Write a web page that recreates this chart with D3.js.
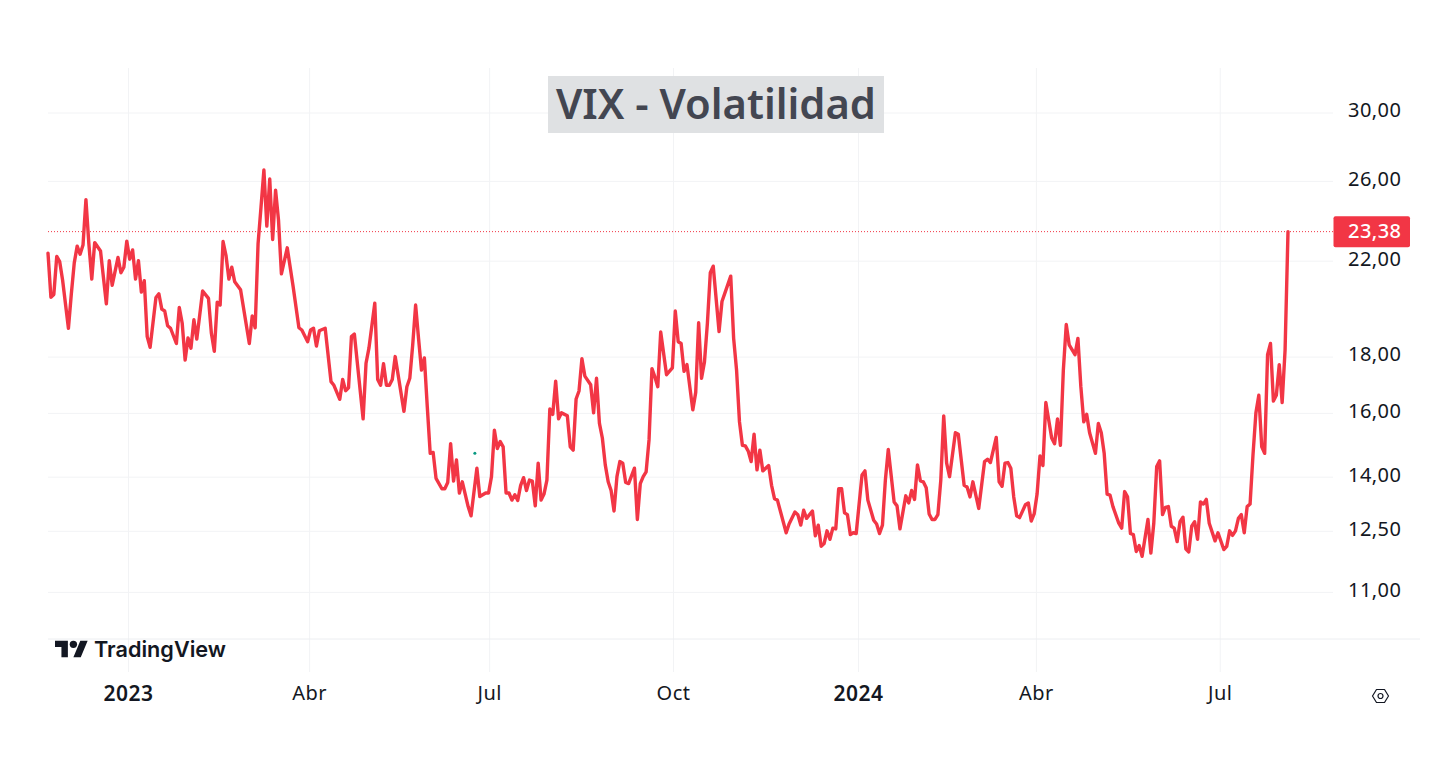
<!DOCTYPE html>
<html>
<head>
<meta charset="utf-8">
<title>VIX - Volatilidad</title>
<script src="https://cdn.jsdelivr.net/npm/d3@7"></script>
<style>
  html, body { margin: 0; background: #fff; }
  svg { display: block; }
  .grid line { stroke: #f2f3f5; stroke-width: 1; }
  .grid .domain { display: none; }
  .axis .domain { display: none; }
  .axis text { font-family: "Noto Sans", sans-serif; font-size: 20px; letter-spacing: 0.45px; fill: #131722; }
</style>
</head>
<body>
<svg id="chart" width="1450" height="772"></svg>
<script>
/* ── Data: one row of sessions lines up with one row of closes ── */
const sessions = [
  0,1,2,3,4,5,7,8,9,10,11,12,13,14,15,16,18,20,
  21,22,24,25,26,27,28,29,30,31,32,33,34,35,37,38,39,40,
  41,42,44,45,46,47,48,49,50,51,53,55,56,57,58,59,60,61,
  62,63,64,66,69,70,71,72,73,74,75,76,77,78,79,80,82,84,
  86,87,89,90,91,92,93,95,97,98,100,101,102,103,104,105,108,109,
  110,112,113,114,115,116,117,118,119,122,123,124,125,126,127,128,129,130,
  131,132,133,135,136,137,138,139,140,141,142,144,145,147,148,150,151,152,
  153,154,155,156,157,158,159,160,161,162,163,164,165,166,167,168,169,170,
  171,172,173,174,175,176,178,179,180,181,182,183,184,186,187,188,189,190,
  191,192,193,194,195,196,197,198,199,201,202,203,204,205,206,207,208,209,
  210,212,214,215,216,217,218,219,221,222,223,224,225,226,227,228,230,231,
  234,235,236,237,238,239,240,241,242,243,244,245,247,248,249,250,253,254,
  256,257,258,259,260,262,263,264,265,266,267,268,269,270,271,272,273,274,
  275,276,277,279,280,281,283,284,285,286,287,288,290,291,292,294,295,296,
  297,298,299,300,301,302,303,304,305,306,307,308,309,311,312,314,315,316,
  317,319,321,322,323,325,326,327,328,329,330,331,332,333,335,336,337,338,
  339,340,341,342,344,345,346,347,348,349,350,352,353,354,355,356,357,359,
  360,361,362,363,364,365,367,368,369,370,371,372,373,374,375,377,378,379,
  380,381,382,383,384,385,386,387,388,389,390,391,392,393,394,395,396,397,
  398,400,401,403,404,405,406,407,408,409,410,411,412,413,414,415,416,417,
  418,419,420,421,422,423,424,425
];
const closes = [
  22.35,20.38,20.5,22.2,21.96,21.13,19.1,20.53,21.9,22.68,22.3,22.73,25.0,22.8,21.17,22.85,22.45,20.1,
  22.0,20.9,22.15,21.45,21.7,22.92,22.07,22.5,21.17,22.0,20.6,21.1,18.77,18.35,20.37,20.53,19.88,19.8,
  19.2,19.1,18.5,19.95,19.3,17.87,18.72,18.32,19.44,18.67,20.65,20.33,18.9,18.2,20.17,20.05,22.9,22.25,
  21.17,21.7,21.05,20.7,18.5,19.6,19.12,22.8,24.6,26.6,23.65,26.1,23.0,25.5,23.96,21.4,22.6,20.85,
  19.12,19.03,18.57,19.03,19.1,18.4,19.0,19.1,17.08,16.95,16.46,17.16,16.76,16.86,18.77,18.87,15.8,17.75,
  18.32,20.13,17.16,16.95,17.73,16.95,16.95,17.16,18.0,16.05,16.9,17.2,18.45,20.05,18.7,17.5,17.95,16.2,
  14.7,14.73,13.95,13.65,13.65,13.83,15.0,13.87,14.5,13.53,13.85,13.15,12.9,14.25,13.43,13.53,13.53,14.0,
  15.43,14.85,15.07,14.9,13.53,13.53,13.33,13.48,13.32,13.75,13.97,13.6,13.9,13.87,13.17,14.4,13.33,13.5,
  13.9,16.13,15.95,17.1,15.8,16.0,15.9,14.9,14.8,16.47,16.75,17.92,17.28,16.97,16.0,17.2,15.65,15.18,
  14.35,13.85,13.6,13.03,14.0,14.45,14.4,13.83,13.8,14.25,12.8,13.8,14.0,14.14,15.12,17.55,17.25,16.9,
  18.95,17.33,17.58,19.8,18.57,18.5,17.45,17.7,16.1,16.7,19.32,17.2,17.8,19.3,21.45,21.75,18.97,20.2,
  21.3,18.7,17.5,15.7,14.95,14.93,14.77,14.45,15.3,14.2,14.8,14.17,14.33,13.75,13.37,13.33,12.45,12.68,
  13.0,12.93,12.65,13.05,12.83,13.03,12.37,12.65,12.1,12.17,12.5,12.28,12.57,12.55,13.65,13.65,12.98,12.93,
  12.4,12.45,12.43,14.05,14.17,13.33,12.78,12.68,12.43,12.65,13.9,14.82,13.28,13.17,12.55,13.45,13.25,13.6,
  13.35,14.35,13.88,13.85,13.68,12.95,12.8,12.8,12.93,13.9,15.9,14.4,14.0,15.35,15.3,13.75,13.7,13.42,
  13.85,13.1,14.45,14.52,14.42,15.2,13.85,13.72,14.4,14.42,14.25,13.42,12.9,12.85,13.2,13.25,12.76,12.95,
  13.5,14.62,14.33,16.35,15.18,15.0,15.8,14.95,17.5,19.25,18.45,18.07,18.7,16.9,15.7,15.95,15.35,14.7,
  15.65,15.35,14.7,13.5,13.47,13.15,12.7,12.57,13.57,13.42,12.43,12.4,11.97,12.12,11.85,12.8,11.93,12.7,
  14.3,14.47,12.93,13.13,13.15,12.62,12.57,12.22,12.74,12.86,12.03,11.96,12.62,12.74,12.28,13.28,13.22,13.35,
  12.7,12.24,12.45,12.02,12.1,12.5,12.38,12.5,12.83,12.93,12.45,13.15,13.22,14.65,16.0,16.6,14.9,14.7,
  18.07,18.5,16.4,16.6,17.7,16.35,18.25,23.38
];

const priceTicks   = [30, 26, 22, 18, 16, 14, 12.5, 11];
const timeSessions = [27.4, 89.5, 151.2, 214.2, 277.6, 338.6, 401.6];
const timeLabels   = ["2023", "Abr", "Jul", "Oct", "2024", "Abr", "Jul"];
const yearLabels   = ["2023", "2024"];
const lastPrice    = 23.38;
const markerPoint  = [146.3, 14.7];   // stray green dot on the chart
const titleText    = "VIX - Volatilidad";

/* ── Layout ── */
const RED = "#f23645";
const svg = d3.select("#chart");
const plot = { left: 48, right: 1288, gridRight: 1333, top: 68, bottom: 639, timeBottom: 672 };

const x = d3.scaleLinear().domain([0, 425]).range([plot.left, plot.right]);
const y = d3.scaleLog().domain([30, 11]).range([112.5, 591.9]);

const esLocale = d3.formatLocale({ decimal: ",", thousands: ".", grouping: [3], currency: ["", ""] });
const fmtPrice = esLocale.format(".2f");

/* ── Grid ── */
svg.append("g").attr("class", "grid")
  .attr("transform", `translate(${plot.left},0)`)
  .call(d3.axisLeft(y).tickValues(priceTicks).tickSize(-(plot.gridRight - plot.left)).tickFormat(""));

svg.append("g").attr("class", "grid")
  .attr("transform", `translate(0,${plot.timeBottom})`)
  .call(d3.axisBottom(x).tickValues(timeSessions).tickSize(-(plot.timeBottom - plot.top)).tickFormat(""));

svg.append("line")
  .attr("x1", plot.left).attr("x2", 1420)
  .attr("y1", plot.bottom).attr("y2", plot.bottom)
  .attr("stroke", "#eceef1");

/* ── Title ── */
svg.append("rect")
  .attr("x", 548).attr("y", 76).attr("width", 336).attr("height", 57)
  .attr("fill", "#dfe1e3");
svg.append("text")
  .attr("x", 556).attr("y", 119)
  .attr("font-family", "'Noto Sans', sans-serif")
  .attr("font-size", 42)
  .attr("font-weight", 600)
  .attr("fill", "#434651")
  .attr("textLength", 320)
  .attr("lengthAdjust", "spacingAndGlyphs")
  .text(titleText);

/* ── Price line ── */
const line = d3.line()
  .x((d, i) => x(sessions[i]))
  .y((d) => y(d));

svg.append("line")
  .attr("x1", plot.left).attr("x2", plot.gridRight)
  .attr("y1", y(lastPrice)).attr("y2", y(lastPrice))
  .attr("stroke", RED).attr("stroke-width", 1)
  .attr("stroke-dasharray", "1 2");

svg.append("path")
  .datum(closes)
  .attr("d", line)
  .attr("fill", "none")
  .attr("stroke", RED)
  .attr("stroke-width", 3.4)
  .attr("stroke-linejoin", "round")
  .attr("stroke-linecap", "round");

svg.append("circle")
  .attr("cx", x(markerPoint[0])).attr("cy", y(markerPoint[1]))
  .attr("r", 1.5).attr("fill", "#089981");

/* ── Axes ── */
svg.append("g").attr("class", "axis")
  .attr("transform", "translate(1348,-2)")
  .call(d3.axisRight(y).tickValues(priceTicks).tickSize(0).tickPadding(0).tickFormat(fmtPrice));

svg.append("g").attr("class", "axis")
  .attr("transform", "translate(0,686)")
  .call(d3.axisBottom(x).tickValues(timeSessions).tickSize(0).tickPadding(0)
    .tickFormat((d, i) => timeLabels[i]))
  .call((g) => g.selectAll("text")
    .attr("dy", "0.71em")
    .style("font-weight", (d, i) => yearLabels.includes(timeLabels[i]) ? 600 : 400)
    .style("font-size", (d, i) => yearLabels.includes(timeLabels[i]) ? "21px" : "20px"));

/* ── Last price tag ── */
svg.append("rect")
  .attr("x", 1333.5).attr("y", y(lastPrice) - 15.5)
  .attr("width", 76.5).attr("height", 31).attr("rx", 2)
  .attr("fill", RED);
svg.append("text")
  .attr("x", 1348).attr("y", y(lastPrice) + 6)
  .attr("font-family", "'Noto Sans', sans-serif")
  .attr("font-size", 20)
  .attr("font-weight", 500)
  .attr("letter-spacing", 0.45)
  .attr("fill", "#fff")
  .text(fmtPrice(lastPrice));

/* ── TradingView mark ── */
const logo = svg.append("g")
  .attr("transform", "translate(55,637) scale(0.92)")
  .attr("fill", "#131722");
logo.append("path").attr("d", "M14 22H7V11H0V4h14v18zM28 22h-8l7.5-18h8L28 22z");
logo.append("circle").attr("cx", 20).attr("cy", 8).attr("r", 4);
svg.append("text")
  .attr("x", 94).attr("y", 657)
  .attr("font-family", "Inter, sans-serif")
  .attr("font-size", 22)
  .attr("font-weight", 600)
  .attr("fill", "#131722")
  .attr("textLength", 132)
  .attr("lengthAdjust", "spacingAndGlyphs")
  .text("TradingView");

/* ── Settings hexagon ── */
const hex = svg.append("g").attr("transform", "translate(1380.5,696)")
  .attr("fill", "none").attr("stroke", "#131722").attr("stroke-width", 1.2);
hex.append("path").attr("d", "M-8 0L-4-6.5H4L8 0L4 6.5H-4Z").attr("stroke-linejoin", "round");
hex.append("circle").attr("r", 2.5);
</script>
</body>
</html>
